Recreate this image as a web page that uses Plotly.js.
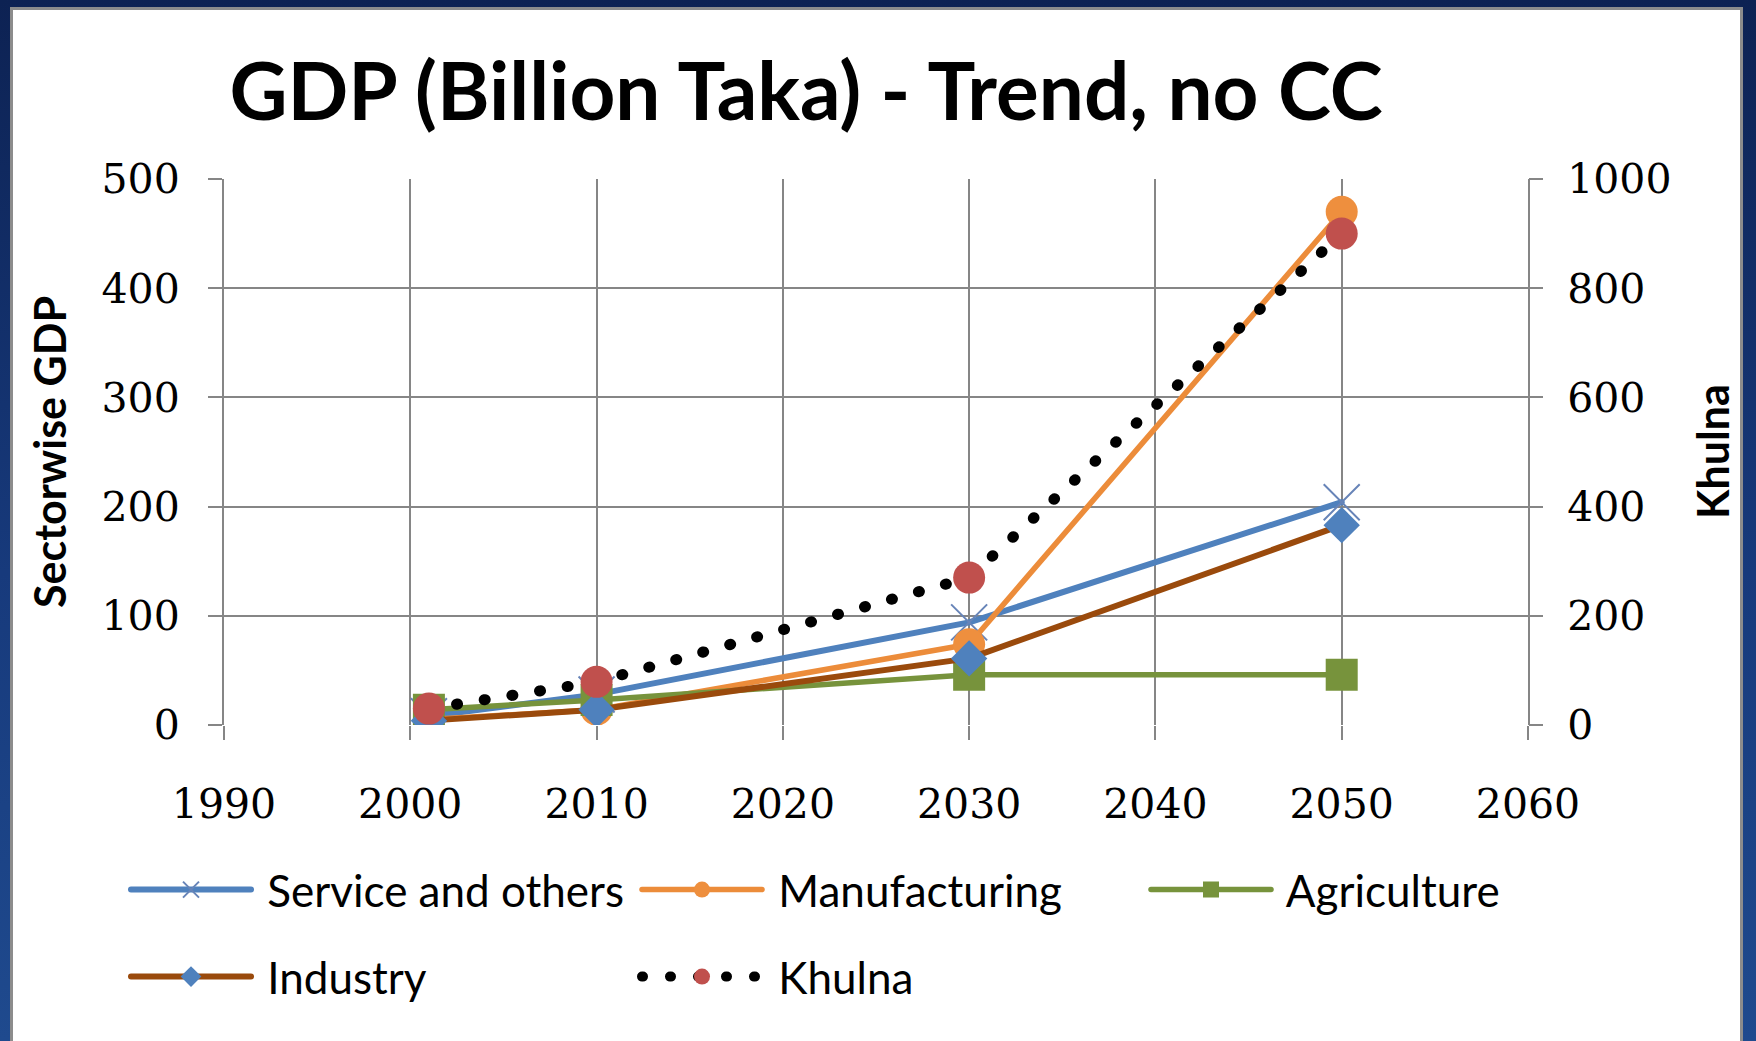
<!DOCTYPE html>
<html>
<head>
<meta charset="utf-8">
<script src="https://cdn.plot.ly/plotly-3.0.1.min.js"></script>
<style>
  html, body { margin: 0; padding: 0; width: 1756px; height: 1041px; overflow: hidden; }
  body { background: linear-gradient(180deg, #0d2253 0%, #173a7c 55%, #1f4a8e 100%); position: relative; }
  #panel {
    position: absolute; left: 10px; top: 7px; width: 1733px; height: 1045px;
    background: #ffffff; border: 3px solid #8c8c8c; box-sizing: border-box;
  }
  #chart { position: absolute; left: 0; top: 0; width: 1756px; height: 1041px; }
  /* rounded dots for the dotted total line, rounded ends elsewhere */
  .js-line { stroke-linecap: round; stroke-linejoin: round; }
</style>
</head>
<body>
<div id="panel"></div>
<div id="chart"></div>
<script>
// GDP by sector (billion Taka), trend scenario without climate change
const years = [2001, 2010, 2030, 2050];
const serviceGDP = [8, 28, 94, 204];
const manufacturingGDP = [5, 14, 74, 470];
const agricultureGDP = [14, 23, 46, 46];
const industryGDP = [4, 14, 61, 183];
// Khulna total, plotted on the secondary axis
const khulnaGDP = [30, 79, 270, 900];

const seriesNames = ['Service and others', 'Manufacturing', 'Agriculture', 'Industry', 'Khulna'];
const chartTitle = 'GDP (Billion Taka) - Trend, no CC';
const leftAxisTitle = 'Sectorwise GDP';
const rightAxisTitle = 'Khulna';

const gridColor = '#868686';
const tickFont = { family: 'DejaVu Serif', size: 41, color: '#000000' };
const legendFont = { family: 'Lato', size: 44, color: '#000000' };
const NBSP = '\u00A0';

// legend entries: one small legend per entry so the three-column grid lines up
const legendSlots = {
  legend:  { col: 0, row: 0 },
  legend2: { col: 1, row: 0 },
  legend3: { col: 2, row: 0 },
  legend4: { col: 0, row: 1 },
  legend5: { col: 1, row: 1 }
};
const legendColumnsPx = [126, 637, 1146];
const legendRowsPx = [890, 977];

const traces = [
  {
    name: NBSP + seriesNames[0], x: years, y: serviceGDP, type: 'scatter', mode: 'lines+markers',
    line: { color: '#4F81BD', width: 6 },
    marker: { symbol: 'x-thin', size: 36, color: '#6784b8', line: { color: '#6784b8', width: 2 } },
    legend: 'legend'
  },
  {
    name: NBSP + seriesNames[1], x: years, y: manufacturingGDP, type: 'scatter', mode: 'lines+markers',
    line: { color: '#EC8C3A', width: 5.5 },
    marker: { symbol: 'circle', size: 32, color: '#EE8F3E' },
    legend: 'legend2'
  },
  {
    name: NBSP + seriesNames[2], x: years, y: agricultureGDP, type: 'scatter', mode: 'lines+markers',
    line: { color: '#77933C', width: 5.5 },
    marker: { symbol: 'square', size: 32, color: '#77933C' },
    legend: 'legend3'
  },
  {
    name: NBSP + seriesNames[3], x: years, y: industryGDP, type: 'scatter', mode: 'lines+markers',
    line: { color: '#9A4A0C', width: 6 },
    marker: { symbol: 'diamond', size: 28, color: '#4F81BD' },
    legend: 'legend4'
  },
  {
    name: NBSP + seriesNames[4], x: years, y: khulnaGDP, type: 'scatter', mode: 'lines+markers',
    yaxis: 'y2',
    line: { color: '#000000', width: 11, dash: '1px,27px' },
    marker: { symbol: 'circle', size: 32, color: '#C0504D' },
    legend: 'legend5'
  }
];

const axisCommon = {
  showgrid: true, gridcolor: gridColor, gridwidth: 2,
  ticks: 'outside', ticklen: 14, tickwidth: 2, tickcolor: gridColor,
  zeroline: false, tickfont: tickFont, fixedrange: true
};

const legendCommon = {
  orientation: 'h', xanchor: 'left', yanchor: 'middle',
  font: legendFont, bgcolor: 'rgba(0,0,0,0)', borderwidth: 0,
  itemwidth: 120, traceorder: 'normal'
};

const layout = {
  width: 1756, height: 1041,
  paper_bgcolor: 'rgba(0,0,0,0)', plot_bgcolor: 'rgba(0,0,0,0)',
  margin: { l: 224, r: 228, t: 179, b: 316, pad: 0 },
  showlegend: true,
  title: {
    text: chartTitle,
    font: { family: 'Lato', size: 80, weight: 700, color: '#000000' },
    xref: 'container', yref: 'container', x: 806 / 1756, xanchor: 'center',
    y: 1 - 92 / 1041, yanchor: 'middle'
  },
  xaxis: Object.assign({}, axisCommon, {
    range: [1990, 2060], dtick: 10, tick0: 1990, ticklabelstandoff: 29,
    showline: false
  }),
  yaxis: Object.assign({}, axisCommon, {
    range: [0, 500], dtick: 100, tick0: 0, ticklabelstandoff: 20,
    showline: true, linecolor: gridColor, linewidth: 2, mirror: true
  }),
  yaxis2: Object.assign({}, axisCommon, {
    range: [0, 1000], dtick: 200, tick0: 0, overlaying: 'y', side: 'right',
    showgrid: false, showline: false, ticklabelstandoff: 16
  }),
  annotations: [
    {
      text: leftAxisTitle, xref: 'paper', yref: 'paper', x: (49 - 224) / 1304, y: 0.5,
      xanchor: 'center', yanchor: 'middle', textangle: -90, showarrow: false,
      font: { family: 'Lato', size: 43, weight: 700, color: '#000000' }
    },
    {
      text: rightAxisTitle, xref: 'paper', yref: 'paper', x: (1712 - 224) / 1304, y: 0.5,
      xanchor: 'center', yanchor: 'middle', textangle: -90, showarrow: false,
      font: { family: 'Lato', size: 43, weight: 700, color: '#000000' }
    }
  ]
};

// place each legend box in paper coordinates from its pixel slot
Object.keys(legendSlots).forEach(function (key) {
  const slot = legendSlots[key];
  layout[key] = Object.assign({}, legendCommon, {
    x: (legendColumnsPx[slot.col] - 224) / 1304,
    y: (725 - legendRowsPx[slot.row]) / 546
  });
});

Plotly.newPlot('chart', traces, layout, { displayModeBar: false, staticPlot: true });
</script>
</body>
</html>
